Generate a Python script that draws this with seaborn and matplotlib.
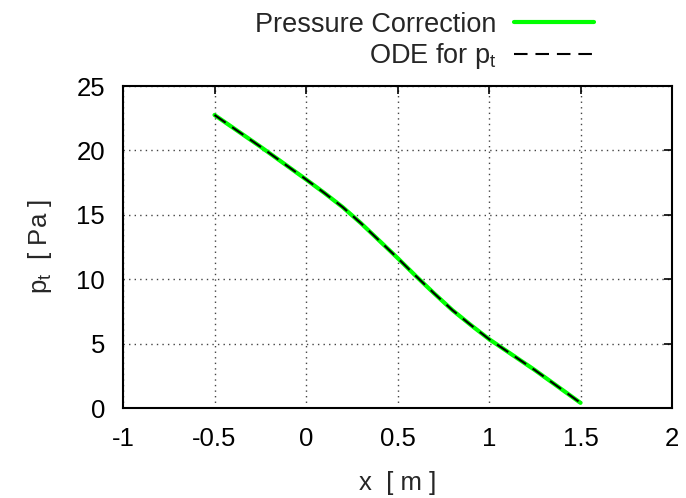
import matplotlib
matplotlib.use("Agg")
import matplotlib.pyplot as plt
import seaborn as sns
import pandas as pd

# Data
x_vals = [-0.5, -0.25, 0.0, 0.1, 0.2, 0.3, 0.4, 0.5, 0.6, 0.7, 0.8, 0.9, 1.0, 1.25, 1.5]
p_pressure_correction = [22.75, 20.3, 17.75, 16.7, 15.6, 14.35, 13.0, 11.65, 10.25, 8.9, 7.6, 6.45, 5.35, 2.95, 0.4]
p_ode = [22.75, 20.3, 17.75, 16.7, 15.6, 14.35, 13.0, 11.65, 10.25, 8.9, 7.6, 6.45, 5.35, 2.95, 0.4]
x_ticks = [-1, -0.5, 0, 0.5, 1, 1.5, 2]
x_tick_labels = ["-1", "-0.5", "0", "0.5", "1", "1.5", "2"]
y_ticks = [0, 5, 10, 15, 20, 25]
y_tick_labels = ["0", "5", "10", "15", "20", "25"]
labels = ["Pressure Correction", "ODE for p$_\\mathregular{t}$"]

sns.set_style("white")
plt.rcParams['font.family'] = ['Liberation Sans', 'DejaVu Sans']
plt.rcParams['mathtext.fontset'] = 'custom'
plt.rcParams['mathtext.rm'] = 'Liberation Sans'

FS = 18.5
LFS = 19.5

fig = plt.figure(figsize=(6.86, 4.98), dpi=100)
ax = fig.add_axes([0.1793, 0.1807, 0.9796 - 0.1793, 0.8273 - 0.1807])

df1 = pd.DataFrame({"x": x_vals, "p": p_pressure_correction})
df2 = pd.DataFrame({"x": x_vals, "p": p_ode})
sns.lineplot(data=df1, x="x", y="p", ax=ax, color="#00ff00", lw=3.0, label=labels[0], sort=False)
sns.lineplot(data=df2, x="x", y="p", ax=ax, color="black", lw=1.5, label=labels[1], sort=False,
             dashes=False)
ax.lines[1].set_dashes((6.5, 3.8))

ax.set_xlim(-1, 2)
ax.set_ylim(0, 25)
ax.set_xticks(x_ticks)
ax.set_xticklabels(x_tick_labels)
ax.set_yticks(y_ticks)
ax.set_yticklabels(y_tick_labels)
ax.tick_params(axis='both', direction='in', length=6, width=1.2, labelsize=FS,
               top=True, right=True, colors='black')
ax.tick_params(axis='y', pad=13)
ax.tick_params(axis='x', pad=14)
ax.grid(True, color='#444444', linestyle=(0, (1, 3)), linewidth=1.0)
for s in ax.spines.values():
    s.set_linewidth(1.5)
    s.set_color('black')

ax.set_xlabel("x  [ m ]", fontsize=FS, labelpad=14)
ax.set_ylabel("p$_\\mathregular{t}$  [ Pa ]", fontsize=FS, labelpad=16)

ax.get_legend().remove()
h, l = ax.get_legend_handles_labels()
fig.legend(h, l, loc='upper right', bbox_to_anchor=(0.882, 0.998), frameon=False,
           markerfirst=False, fontsize=LFS, handlelength=2.95, labelspacing=0.12,
           borderaxespad=0, handletextpad=0.65)

fig.savefig("out.png", dpi=100)
